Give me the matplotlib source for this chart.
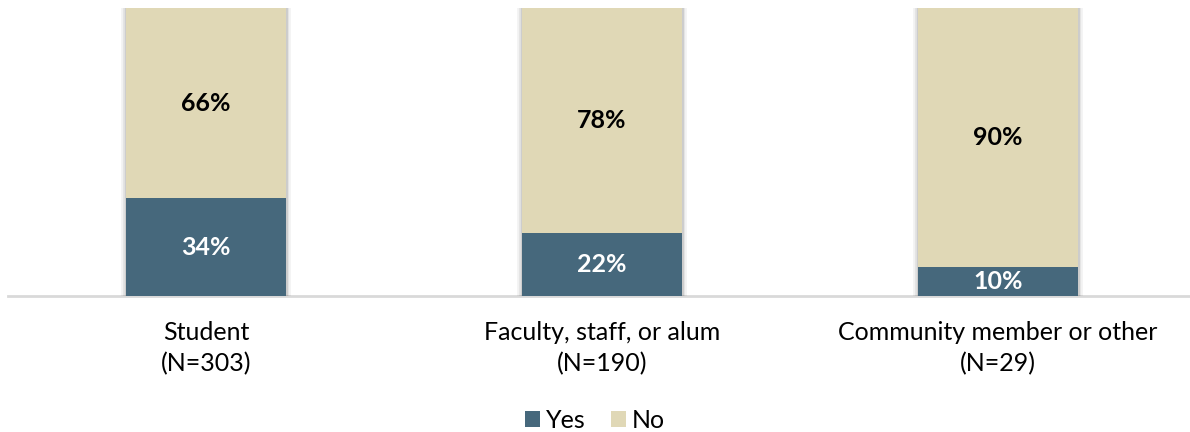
import matplotlib
matplotlib.use("Agg")
import matplotlib.pyplot as plt
import matplotlib.patheffects as pe
from matplotlib.patches import Patch

categories = ["Student\n(N=303)", "Faculty, staff, or alum\n(N=190)", "Community member or other\n(N=29)"]
yes_vals = [34, 22, 10]
no_vals = [66, 78, 90]
series_names = ["Yes", "No"]

yes_color = "#46687C"
no_color = "#E0D8B6"

plt.rcParams["font.family"] = ["Lato", "DejaVu Sans"]

fig = plt.figure(figsize=(11.9, 4.32), dpi=100)
ax = fig.add_axes([8 / 1190, 1 - 296 / 432, 1188 / 1190, 288 / 432])

x = list(range(len(categories)))
width = 0.404

shadow = [pe.Stroke(linewidth=7, foreground="#000000", alpha=0.05),
          pe.Stroke(linewidth=4, foreground="#000000", alpha=0.07),
          pe.Stroke(linewidth=2, foreground="#000000", alpha=0.09),
          pe.Normal()]

totals = [y + n for y, n in zip(yes_vals, no_vals)]
# Background silhouette to cast a soft shadow around each full bar
bg = ax.bar(x, totals, width=width, color="white", linewidth=0, zorder=1)
for b in bg:
    b.set_path_effects(shadow)

ax.bar(x, yes_vals, width=width, color=yes_color, linewidth=0, zorder=2)
ax.bar(x, no_vals, width=width, bottom=yes_vals, color=no_color, linewidth=0, zorder=2)

for xi, yv, nv in zip(x, yes_vals, no_vals):
    ax.text(xi, yv / 2, f"{yv}%", ha="center", va="center", color="white",
            fontsize=18, fontweight="bold", zorder=3)
    ax.text(xi, yv + nv / 2, f"{nv}%", ha="center", va="center", color="black",
            fontsize=18, fontweight="bold", zorder=3)

ax.set_xlim(-0.5, 2.5)
ax.set_ylim(0, 100)
ax.set_yticks([])
ax.set_xticks(x)
ax.set_xticklabels(categories, fontsize=18, color="#000000", linespacing=1.42)
ax.tick_params(axis="x", length=0, pad=18)
for side in ["top", "left", "right"]:
    ax.spines[side].set_visible(False)
ax.spines["bottom"].set_color("#D9D9D9")
ax.spines["bottom"].set_linewidth(2)
ax.spines["bottom"].set_zorder(0)

handles = [Patch(facecolor=yes_color, edgecolor="none"),
           Patch(facecolor=no_color, edgecolor="none")]
fig.legend(handles, series_names, loc="center", bbox_to_anchor=(0.5, 1 - 420 / 432),
           ncol=2, frameon=False, fontsize=18, handlelength=0.6, handleheight=0.6,
           handletextpad=0.25, columnspacing=1.0)

fig.savefig("out.png", dpi=100, facecolor="white")
